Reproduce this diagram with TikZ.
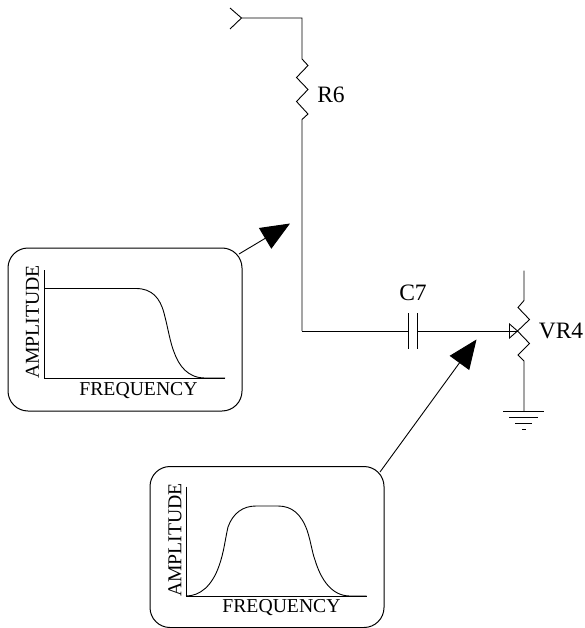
\documentclass[tikz,border=0pt]{standalone}
\usepackage{fontspec}
\setmainfont{Liberation Serif}
\usetikzlibrary{arrows.meta}
\tikzset{
    wire/.style={line width=0.9pt, line join=miter},
    panel/.style={draw, line width=1pt, rounded corners=20pt, minimum width=234pt, minimum height=163pt, inner sep=0pt},
    partlabel/.style={font=\fontsize{23.5}{25}\selectfont, inner sep=0pt},
    axislabel/.style={font=\fontsize{19.7}{22}\selectfont, inner sep=0pt},
    pointer/.style={line width=0.9pt, -{Triangle[length=29pt, width=24pt]}},
}
\begin{document}
\begin{tikzpicture}[x=1pt, y=-1pt]
    \useasboundingbox (0,0) rectangle (585,628);

    % Input fork, top wire and R6
    \coordinate (forkA) at (230,8);
    \coordinate (forkB) at (230,29);
    \coordinate (input) at (241.5,18);
    \coordinate (corner) at (302,18);
    \coordinate (bend) at (302,331);
    \draw[wire] (forkA) -- (input) -- (forkB);
    \draw[wire] (input) -- (corner) -- (302,59) -- (308,65.5) -- (296.5,77.5) -- (308,89.5)
        -- (296.5,101.5) -- (308,114) -- (302,119.5) -- (bend);
    \node[partlabel] (R6) at (331,94.5) {R6};

    % Capacitor C7
    \coordinate (plateL) at (408,331);
    \coordinate (plateR) at (417,331);
    \draw[wire] (bend) -- (plateL);
    \draw[wire] (408,313) -- (408,349);
    \draw[wire] (417,313) -- (417,349);
    \node[partlabel] (C7) at (413,293) {C7};

    % Varistor VR4 with the wiper and ground
    \coordinate (wiper) at (517.5,331);
    \coordinate (earth) at (524,411.5);
    \draw[wire] (plateR) -- (wiper);
    \draw[wire] (509.5,324) -- (509.5,338) -- (wiper) -- cycle;
    \draw[wire] (524,270.5) -- (524,300.5) -- (518,307.5) -- (529.5,319.5) -- (wiper)
        -- (529.5,343.5) -- (518,355) -- (524,361) -- (earth);
    \node[partlabel] (VR4) at (561,331) {VR4};
    \draw[wire] (503,411.5) -- (544,411.5);
    \draw[wire] (509,417.5) -- (538,417.5);
    \draw[wire] (515,423.5) -- (532,423.5);
    \draw[wire] (522,429.5) -- (526,429.5);

    % Low pass panel
    \node[panel] (lowpass) at (125,329.5) {};
    \coordinate (lowTop) at (44.5,270);
    \coordinate (lowOrigin) at (44.5,378);
    \coordinate (lowEnd) at (225,378);
    \draw[wire] (lowTop) -- (lowOrigin) -- (lowEnd);
    \draw[wire] (44.5,288.5) -- (136,288.5)
        .. controls (152,288.5) and (160,298) .. (164,313)
        .. controls (168,328) and (170,342) .. (174,352)
        .. controls (179,366) and (188,378) .. (205,378) -- (lowEnd);
    \node[axislabel] (lowFreq) at (138.5,390.5) {FREQUENCY};
    \node[axislabel, rotate=90] (lowAmp) at (32.5,322) {AMPLITUDE};

    % Band pass panel
    \node[panel, minimum height=161pt] (bandpass) at (267,547) {};
    \coordinate (bandTop) at (186,486.5);
    \coordinate (bandOrigin) at (186,596);
    \coordinate (bandEnd) at (366.5,596);
    \draw[wire] (bandTop) -- (bandOrigin) -- (bandEnd);
    \draw[wire] (bandOrigin) .. controls (200,596) and (212,586) .. (219,566)
        .. controls (224,552) and (225,540) .. (228,527)
        .. controls (233,513) and (243,506) .. (256,506) -- (278,506)
        .. controls (292,506) and (301,514) .. (307,530)
        .. controls (311,542) and (312,552) .. (315,560)
        .. controls (321,580) and (332,596) .. (350,596) -- (bandEnd);
    \node[axislabel] (bandFreq) at (281.5,607.5) {FREQUENCY};
    \node[axislabel, rotate=90] (bandAmp) at (175,540) {AMPLITUDE};

    % Pointers from the panels
    \coordinate (lowStart) at (239,254);
    \coordinate (lowTip) at (290,223.5);
    \coordinate (bandStart) at (380,472);
    \coordinate (bandTip) at (476.5,339.5);
    \draw[pointer] (lowStart) -- (lowTip);
    \draw[pointer] (bandStart) -- (bandTip);
\end{tikzpicture}
\end{document}
